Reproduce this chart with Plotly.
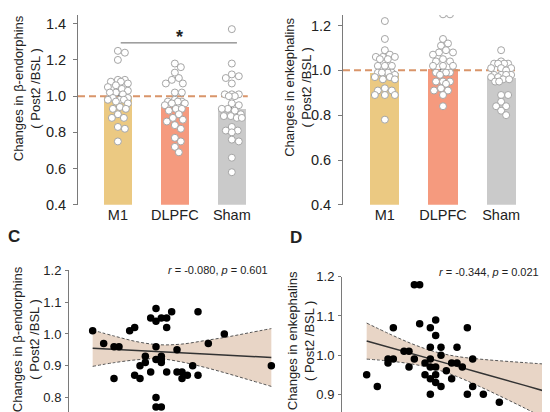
import plotly.graph_objects as go

W, H = 550, 412
FONT = "Liberation Sans, Arial, sans-serif"

# ---------------- data ----------------
GROUPS = ["M1", "DLPFC", "Sham"]
BAR_COLORS = ["#EBC982", "#F59A7E", "#CACACA"]
BASELINE = 1.0

# Panel A: beta-endorphins (Post2 / BSL)
A_MEANS = [1.003, 0.940, 0.928]
A_SEM = [0.030, 0.024, 0.031]
A_M1 = [1.25, 1.24, 1.20, 1.09, 1.09, 1.08, 1.08, 1.07, 1.06, 1.05, 1.04, 1.03, 1.02, 1.02, 1.01,
        0.99, 0.99, 0.98, 0.98, 0.98, 0.97, 0.96, 0.94, 0.93, 0.93, 0.90, 0.88, 0.88, 0.83, 0.82, 0.75]
A_DLPFC = [1.18, 1.16, 1.13, 1.10, 1.09, 1.07, 1.07, 1.02, 1.02, 0.98, 0.97, 0.97, 0.97, 0.96, 0.96,
           0.95, 0.93, 0.93, 0.92, 0.90, 0.88, 0.87, 0.86, 0.84, 0.82, 0.77, 0.75, 0.72, 0.69]
A_SHAM = [1.37, 1.18, 1.12, 1.11, 1.10, 1.07, 1.01, 1.01, 1.01, 1.00, 1.00, 0.96, 0.95, 0.93, 0.93,
          0.92, 0.90, 0.89, 0.89, 0.88, 0.88, 0.83, 0.81, 0.81, 0.80, 0.76, 0.75, 0.66, 0.58]

# Panel B: enkephalins (Post2 / BSL)
B_MEANS = [0.990, 1.006, 0.966]
B_SEM = [0.028, 0.021, 0.018]
B_M1 = [1.22, 1.14, 1.09, 1.07, 1.06, 1.06, 1.06, 1.05, 1.05, 1.02, 1.02, 1.02, 0.99, 0.99, 0.99,
        0.99, 0.99, 0.98, 0.97, 0.97, 0.96, 0.96, 0.92, 0.91, 0.91, 0.89, 0.89, 0.89, 0.78]
B_DLPFC = [1.25, 1.25, 1.14, 1.12, 1.11, 1.09, 1.08, 1.08, 1.07, 1.05, 1.04, 1.04, 1.02, 1.02, 1.02,
           0.99, 0.99, 0.99, 0.99, 0.98, 0.95, 0.95, 0.95, 0.94, 0.92, 0.91, 0.91, 0.89, 0.84]
B_SHAM = [1.09, 1.04, 1.03, 1.03, 1.03, 1.03, 1.01, 1.01, 1.01, 1.00, 0.98, 0.98, 0.98, 0.98, 0.97,
          0.97, 0.96, 0.96, 0.95, 0.95, 0.89, 0.89, 0.86, 0.84, 0.84, 0.82, 0.80]

# Panel C: scatter, beta-endorphins
C_X = [25.4, 28.7, 31.8, 33.3, 31.8, 36.5, 38.0, 38.0, 39.6, 39.6, 41.2, 41.2, 42.8, 42.8,
       44.4, 44.4, 44.4, 44.4, 44.4, 44.4, 46.0, 46.0, 47.6, 47.6, 46.0, 46.0, 46.0, 47.6,
       49.1, 50.7, 50.7, 52.2, 52.2, 53.8, 55.4, 57.0, 57.0, 60.1, 64.9, 79.0]
C_Y = [1.01, 0.97, 0.96, 0.96, 0.86, 1.01, 1.02, 0.87, 0.86, 0.90, 0.93, 0.91, 1.05, 0.88,
       1.08, 1.04, 0.96, 0.92, 0.80, 0.77, 0.77, 1.05, 1.05, 1.02, 0.93, 0.92, 0.91, 0.88,
       1.07, 0.95, 0.88, 0.88, 0.86, 0.87, 0.90, 1.07, 0.87, 0.97, 1.00, 0.90]
C_FIT_X = [25.4, 32.0, 39.0, 45.4, 52.0, 59.0, 66.0, 72.5, 79.0]
C_FIT_Y = [0.955, 0.951, 0.947, 0.944, 0.940, 0.937, 0.933, 0.930, 0.926]
C_LO = [0.898, 0.910, 0.919, 0.922, 0.912, 0.895, 0.875, 0.855, 0.835]
C_HI = [1.012, 0.993, 0.975, 0.966, 0.968, 0.979, 0.991, 1.004, 1.017]
C_STAT = "<i>r</i> = -0.080, <i>p</i> = 0.601"

# Panel D: scatter, enkephalins
D_X = [25.1, 28.3, 31.5, 31.5, 33.1, 33.1, 36.3, 37.8, 37.8, 39.4, 39.4, 41.0, 41.0, 42.6, 42.6,
       44.2, 44.2, 44.2, 44.2, 44.2, 44.2, 45.8, 45.8, 45.8, 45.8, 45.8, 47.4, 47.4, 47.4, 49.0,
       50.6, 50.6, 52.2, 52.2, 53.8, 55.3, 55.3, 56.9, 56.9, 60.1, 64.9, 79.0]
D_Y = [0.95, 0.92, 0.99, 0.98, 1.07, 0.99, 1.01, 1.01, 0.97, 0.99, 1.18, 1.18, 1.08, 0.98, 0.95,
       1.07, 1.02, 0.99, 0.97, 0.94, 0.90, 1.09, 1.05, 0.97, 0.95, 0.93, 1.02, 1.00, 0.92, 0.96,
       0.98, 0.94, 1.02, 0.98, 0.97, 1.07, 0.90, 0.99, 0.92, 0.90, 0.88, 0.88]
D_FIT_X = [25.1, 32.0, 39.0, 45.5, 52.0, 59.0, 66.0, 72.5, 79.0]
D_FIT_Y = [1.036, 1.020, 1.003, 0.987, 0.972, 0.955, 0.939, 0.923, 0.907]
D_LO = [0.990, 0.985, 0.977, 0.965, 0.946, 0.920, 0.892, 0.865, 0.837]
D_HI = [1.082, 1.054, 1.028, 1.009, 0.997, 0.990, 0.985, 0.981, 0.977]
D_STAT = "<i>r</i> = -0.344, <i>p</i> = 0.021"

# ---------------- layout geometry (pixels) ----------------
def px_dom_x(a, b):
    return [a / W, b / W]

def px_dom_y(top, bottom):
    return [1 - bottom / H, 1 - top / H]

PANELS = {
    "A": dict(xpx=(70, 258), ypx=(0, 197), xr=[-0.7, 2.6], yr=[0.4, 1.448]),
    "B": dict(xpx=(335, 528), ypx=(0, 197), xr=[-0.72, 2.6], yr=[0.4, 1.247]),
    "C": dict(xpx=(61, 275), ypx=(265, 412), xr=[18.3, 82.5], yr=[0.7545, 1.2]),
    "D": dict(xpx=(334, 550), ypx=(271.7, 412), xr=[17.7, 82.5], yr=[0.855, 1.2]),
}


def swarm_offsets(values, px_x, px_y, diam=6.5, maxw=10):
    placed = []
    out = []
    cands = [0]
    for k in range(1, maxw + 1):
        cands += [k, -k]
    for v in values:
        y = v * px_y
        chosen = None
        for dx in cands:
            if all((dx - pdx) ** 2 + (y - py) ** 2 >= diam ** 2 for pdx, py in placed):
                chosen = dx
                break
        if chosen is None:
            chosen = max(cands, key=lambda d: min((d - pdx) ** 2 + (y - py) ** 2 for pdx, py in placed))
        placed.append((chosen, y))
        out.append(chosen / px_x)
    return out


fig = go.Figure()

axis_line = "#7A7A7A"
tick_font = dict(family=FONT, size=14.5, color="#222")
cat_font = dict(family=FONT, size=14.5, color="#222")


def bar_panel(key, xa, ya, means, sem, groups_vals):
    p = PANELS[key]
    px_x = (p["xpx"][1] - p["xpx"][0]) / (p["xr"][1] - p["xr"][0])
    px_y = (p["ypx"][1] - p["ypx"][0]) / (p["yr"][1] - p["yr"][0])
    fig.add_trace(go.Bar(
        x=list(range(len(GROUPS))), y=means, width=0.5,
        marker=dict(color=BAR_COLORS, line=dict(width=0)),
        error_y=dict(type="data", array=sem, arrayminus=[0] * len(sem), symmetric=False,
                     color="#444", thickness=1, width=3),
        xaxis=xa, yaxis=ya, showlegend=False, hoverinfo="skip"))
    fig.add_trace(go.Scatter(
        x=[p["xr"][0], p["xr"][0] + 2.98], y=[BASELINE, BASELINE], mode="lines",
        line=dict(color="#D9956A", width=2, dash="7px,4px"),
        xaxis=xa, yaxis=ya, showlegend=False, hoverinfo="skip"))
    for i, vals in enumerate(groups_vals):
        offs = swarm_offsets(vals, px_x, px_y)
        fig.add_trace(go.Scatter(
            x=[i + o for o in offs], y=vals, mode="markers",
            marker=dict(color="white", size=7, line=dict(color="#A5A5A5", width=1)),
            xaxis=xa, yaxis=ya, showlegend=False, hoverinfo="skip"))


bar_panel("A", "x", "y", A_MEANS, A_SEM, [A_M1, A_DLPFC, A_SHAM])
bar_panel("B", "x2", "y2", B_MEANS, B_SEM, [B_M1, B_DLPFC, B_SHAM])


def scatter_panel(xa, ya, xs, ys, fx, fy, lo, hi):
    fig.add_trace(go.Scatter(x=fx, y=lo, mode="lines", line=dict(color="#555", width=1, dash="3px,2px", shape="spline"),
                             xaxis=xa, yaxis=ya, showlegend=False, hoverinfo="skip"))
    fig.add_trace(go.Scatter(x=fx, y=hi, mode="lines", fill="tonexty", fillcolor="#E8D5C6",
                             line=dict(color="#555", width=1, dash="3px,2px", shape="spline"),
                             xaxis=xa, yaxis=ya, showlegend=False, hoverinfo="skip"))
    fig.add_trace(go.Scatter(x=fx, y=fy, mode="lines", line=dict(color="#333", width=1.5),
                             xaxis=xa, yaxis=ya, showlegend=False, hoverinfo="skip"))
    fig.add_trace(go.Scatter(x=xs, y=ys, mode="markers", marker=dict(color="black", size=7.5),
                             xaxis=xa, yaxis=ya, showlegend=False, hoverinfo="skip"))


scatter_panel("x3", "y3", C_X, C_Y, C_FIT_X, C_FIT_Y, C_LO, C_HI)
scatter_panel("x4", "y4", D_X, D_Y, D_FIT_X, D_FIT_Y, D_LO, D_HI)

layout = dict(
    width=W, height=H, margin=dict(l=0, r=0, t=0, b=0),
    paper_bgcolor="white", plot_bgcolor="white",
    font=dict(family=FONT, size=13, color="#222"),
    showlegend=False, bargap=0,
)

names = {"A": ("xaxis", "yaxis"), "B": ("xaxis2", "yaxis2"), "C": ("xaxis3", "yaxis3"), "D": ("xaxis4", "yaxis4")}
anchors = {"A": ("y", "x"), "B": ("y2", "x2"), "C": ("y3", "x3"), "D": ("y4", "x4")}
for key, (xn, yn) in names.items():
    p = PANELS[key]
    ya_anchor, xa_anchor = anchors[key]
    xdict = dict(domain=px_dom_x(*p["xpx"]), range=p["xr"], anchor=ya_anchor,
                 showgrid=False, zeroline=False, showline=False, fixedrange=True)
    if key in ("A", "B"):
        xdict.update(tickvals=[0, 1, 2], ticktext=GROUPS, ticks="", tickfont=cat_font,
                     ticklabelstandoff=0)
    else:
        xdict.update(visible=False)
    ydict = dict(domain=px_dom_y(*p["ypx"]), range=p["yr"], anchor=xa_anchor,
                 showgrid=False, zeroline=False, showline=True, linecolor=axis_line, linewidth=1,
                 ticks="outside", tickcolor=axis_line, tickformat=".1f", fixedrange=True)
    if key in ("A", "B"):
        ydict.update(tickvals=[0.4, 0.6, 0.8, 1.0, 1.2, 1.4], ticklen=4, tickfont=tick_font,
                     ticklabelstandoff=4)
    else:
        ydict.update(tickvals=[0.8, 0.9, 1.0, 1.1, 1.2], ticklen=3,
                     tickfont=dict(family=FONT, size=13, color="#222"), ticklabelstandoff=1)
    layout[xn] = xdict
    layout[yn] = ydict

fig.update_layout(**layout)


def ann_px(x, y, text, size=13, angle=0, xanchor="center", yanchor="middle"):
    fig.add_annotation(x=x / W, y=1 - y / H, xref="paper", yref="paper", text=text,
                       showarrow=False, textangle=angle, xanchor=xanchor, yanchor=yanchor,
                       font=dict(family=FONT, size=size, color="#222"))

# y-axis titles
ann_px(19, 76, "Changes in β-endorphins<br>( Post2 /BSL )", size=13, angle=-90)
ann_px(290.5, 75, "Changes in enkephalins<br>( Post2 /BSL )", size=13, angle=-90)
ann_px(17.5, 337, "Changes in β-endorphins<br>( Post2 /BSL )", size=13, angle=-90)
ann_px(292.5, 338, "Changes in enkephalins<br>( Post2 /BSL )", size=13, angle=-90)

# panel letters
ann_px(6, 230, "<b>C</b>", size=17)
ann_px(288, 231, "<b>D</b>", size=17)

# correlation stats
ann_px(210, 265, C_STAT, size=11)
ann_px(481, 267, D_STAT, size=11)

# significance bracket in panel A
fig.add_shape(type="line", xref="x", yref="y", x0=0.05, x1=2.09, y0=1.294, y1=1.294,
              line=dict(color="#666", width=1))
fig.add_annotation(x=1.09, y=1.325, xref="x", yref="y", text="<b>*</b>", showarrow=False,
                   font=dict(family=FONT, size=18, color="#222"), yanchor="middle")

fig.write_html("out.html")
